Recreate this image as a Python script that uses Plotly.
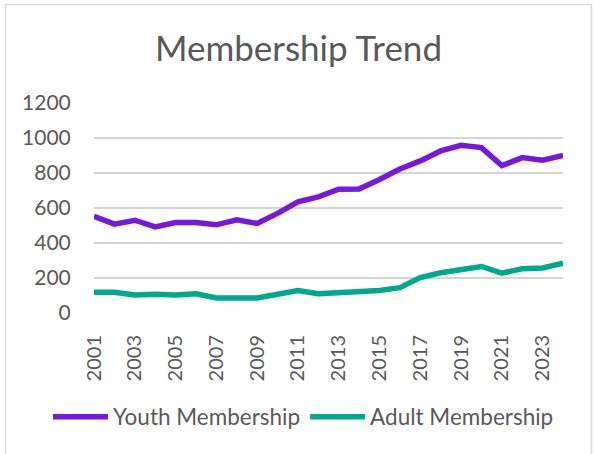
import plotly.graph_objects as go

years = [str(y) for y in range(2001, 2025)]
youth = [553, 508, 530, 492, 517, 517, 504, 532, 512, 569, 635, 664, 707, 709,
         763, 823, 869, 926, 958, 945, 842, 888, 873, 900]
adult = [118, 119, 103, 107, 103, 110, 86, 86, 86, 107, 129, 110, 114, 125,
         129, 145, 202, 230, 245, 266, 228, 253, 257, 285]
tick_years = [str(y) for y in range(2001, 2025, 2)]
y_ticks = [0, 200, 400, 600, 800, 1000, 1200]

W, H = 597, 454
L, R, T, B = 94, 563, 103, 313
pw, ph = R - L, B - T

font_family = "Lato, 'Open Sans', sans-serif"
txt = "#595959"

fig = go.Figure()
fig.add_trace(go.Scatter(x=years, y=youth, mode="lines", name="Youth Membership",
                         line=dict(color="#7519DD", width=5.5)))
fig.add_trace(go.Scatter(x=years, y=adult, mode="lines", name="Adult Membership",
                         line=dict(color="#00A88F", width=5.5)))

def px_x(p):
    return (p - L) / pw

def px_y(p):
    return (B - p) / ph

fig.add_shape(type="rect", xref="paper", yref="paper",
              x0=px_x(5.5), x1=px_x(591.5), y0=px_y(470), y1=px_y(4.5),
              line=dict(color="#d9d9d9", width=1.5), fillcolor="rgba(0,0,0,0)",
              layer="above")

fig.update_layout(
    template="none",
    width=W, height=H,
    margin=dict(l=L, r=W - R, t=T, b=H - B, pad=0, autoexpand=False),
    paper_bgcolor="white", plot_bgcolor="white",
    font=dict(family=font_family, color=txt, size=21),
    title=dict(text="Membership Trend", x=0.5, xanchor="center",
               y=1 - 49 / H, yanchor="middle", yref="container",
               font=dict(size=35, color=txt, family=font_family)),
    xaxis=dict(type="category", tickmode="array", tickvals=tick_years,
               ticktext=tick_years, tickangle=-90, showgrid=False,
               showline=False, zeroline=False, ticks="outside", ticklen=13,
               tickcolor="rgba(0,0,0,0)", tickfont=dict(size=20, color=txt)),
    yaxis=dict(range=[0, 1200], tickmode="array", tickvals=y_ticks,
               showgrid=True, gridcolor="#d4d4d4", gridwidth=1.5,
               zeroline=False, showline=False, ticks="outside", ticklen=18,
               tickcolor="rgba(0,0,0,0)", tickfont=dict(size=21, color=txt)),
    legend=dict(orientation="h", xref="paper", x=px_x(48),
                xanchor="left", yref="paper", y=px_y(417),
                yanchor="middle", font=dict(size=22.5, color=txt),
                bgcolor="rgba(0,0,0,0)", tracegroupgap=0, itemwidth=55),
    showlegend=True,
)

fig.write_html("out.html",
               config={"displayModeBar": False},
               post_script="document.body.style.margin='0';")
